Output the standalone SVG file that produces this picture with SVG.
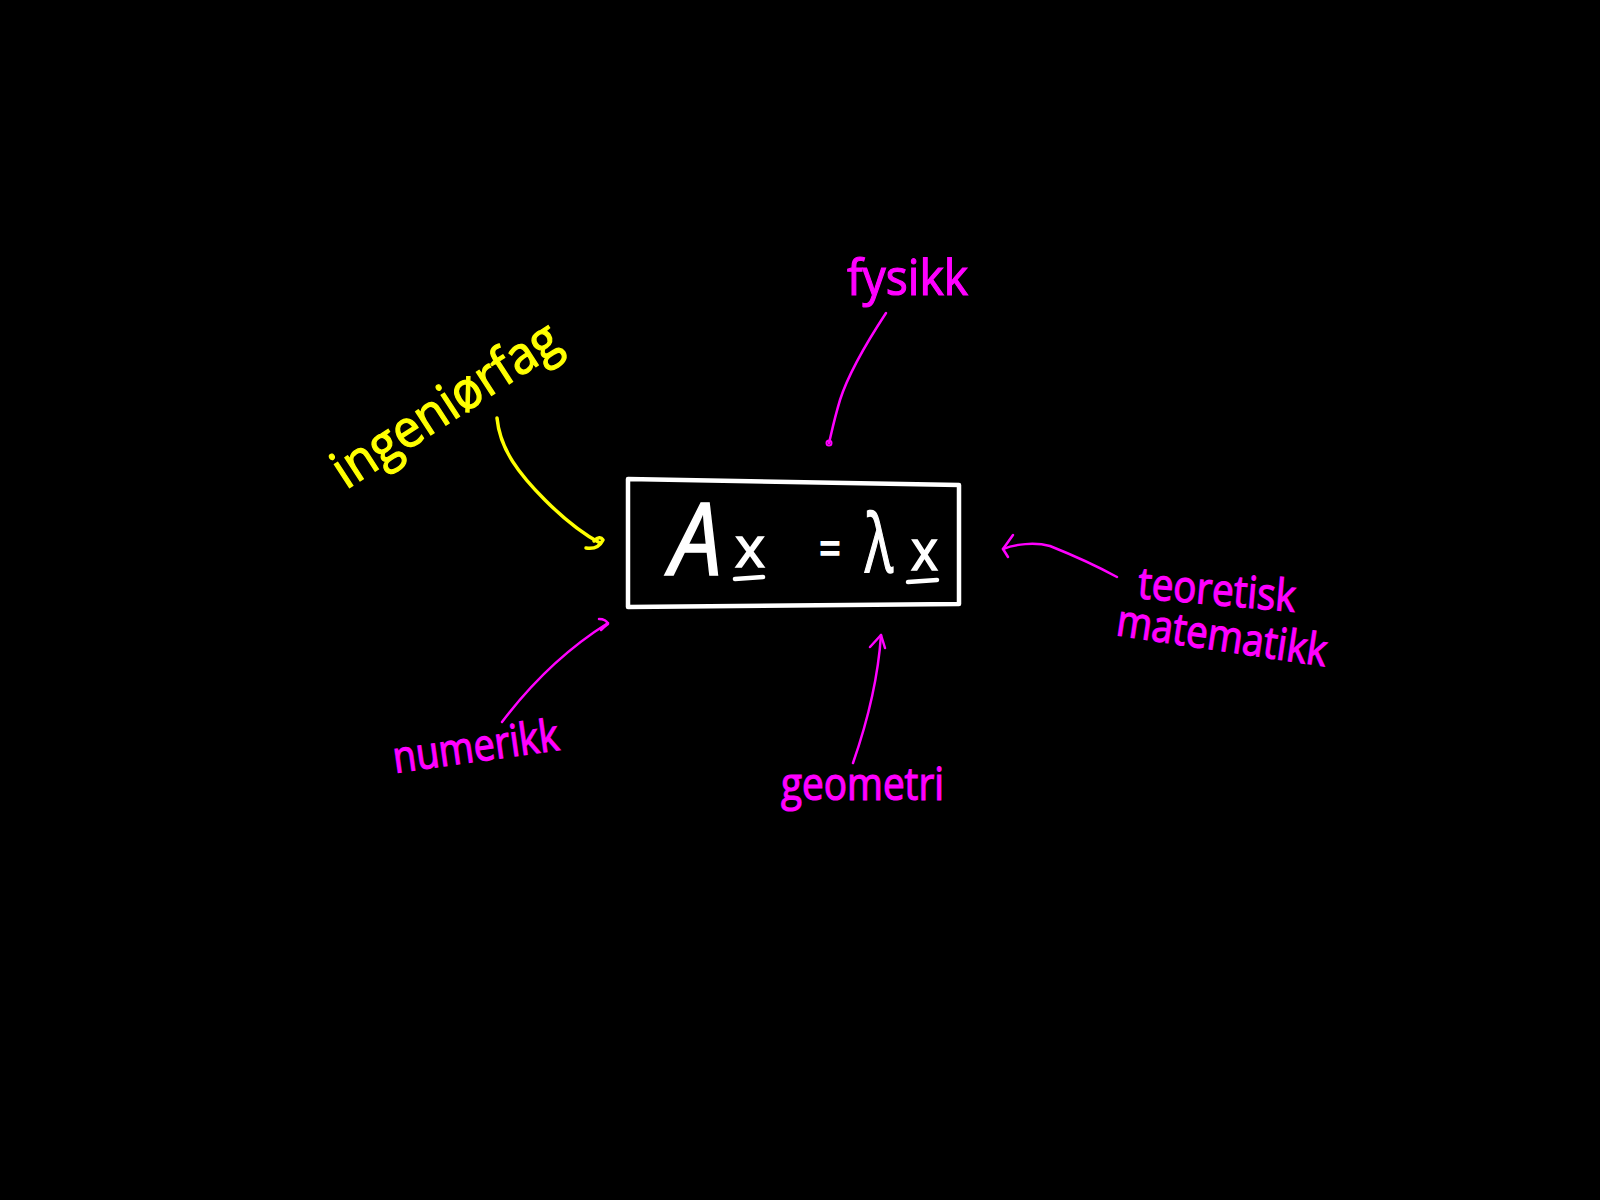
<svg xmlns="http://www.w3.org/2000/svg" width="1600" height="1200" viewBox="0 0 1600 1200">
<style>
.hand{font-family:"Open Sans","DejaVu Sans",sans-serif;}
.mag{fill:#ff00ff;stroke:#ff00ff;stroke-width:1.2;}
.yel{fill:#ffff00;stroke:#ffff00;stroke-width:1.2;}
.wht{fill:#ffffff;stroke:#ffffff;stroke-width:1.5;}
.conn{fill:none;stroke-linecap:round;stroke-linejoin:round;}
.cm{stroke:#ff00ff;stroke-width:2.5;}
.cy{stroke:#ffff00;stroke-width:3.5;}
</style>
<rect x="0" y="0" width="1600" height="1200" fill="#000000"/>
<g id="eigen-box">
<path d="M628,479 L959,485 L959,604 L628,607 Z" fill="none" stroke="#ffffff" stroke-width="4.5" stroke-linejoin="round"/>
<text class="hand wht" x="670" y="575" font-size="100" font-style="italic" textLength="52" lengthAdjust="spacingAndGlyphs">A</text>
<text class="hand wht" x="735" y="567" font-size="56" textLength="30" lengthAdjust="spacingAndGlyphs">x</text>
<path d="M735,579 L763,577" stroke="#ffffff" stroke-width="4.5" stroke-linecap="round"/>
<text class="hand wht" x="819" y="566" font-size="50" textLength="22" lengthAdjust="spacingAndGlyphs" stroke-width="2.5">=</text>
<text class="hand wht" x="865" y="572" font-size="80" textLength="28" lengthAdjust="spacingAndGlyphs">λ</text>
<text class="hand wht" x="911" y="570" font-size="56" textLength="27" lengthAdjust="spacingAndGlyphs">x</text>
<path d="M908,582 L937,580" stroke="#ffffff" stroke-width="4.5" stroke-linecap="round"/>
</g>
<g id="ingeniorfag">
<text class="hand yel" x="346" y="490" font-size="52" textLength="260" lengthAdjust="spacingAndGlyphs" transform="rotate(-33 346 490)">ingeniørfag</text>
</g>
<g id="fysikk">
<text class="hand mag" x="847" y="295" font-size="50" textLength="121" lengthAdjust="spacingAndGlyphs">fysikk</text>
</g>
<g id="teoretisk-matematikk">
<text class="hand mag" x="1137" y="598" font-size="44" textLength="158" lengthAdjust="spacingAndGlyphs" transform="rotate(5 1137 598)">teoretisk</text>
<text class="hand mag" x="1115" y="635" font-size="44" textLength="212" lengthAdjust="spacingAndGlyphs" transform="rotate(8.5 1115 635)">matematikk</text>
</g>
<g id="numerikk">
<text class="hand mag" x="395" y="773" font-size="44" textLength="167" lengthAdjust="spacingAndGlyphs" transform="rotate(-8 395 773)">numerikk</text>
</g>
<g id="geometri">
<text class="hand mag" x="781" y="800" font-size="46" textLength="163" lengthAdjust="spacingAndGlyphs">geometri</text>
</g>
<g id="connectors">
<path class="conn cy" d="M497,418 C500,450 520,475 545,500 C565,520 585,535 600,543"/>
<path class="conn cy" d="M586,548 Q598,550 603,540 Q600,535 594,541" stroke-width="4"/>
<path class="conn cm" d="M886,313 C865,345 848,375 840,400 C834,420 831,435 829,443"/>
<circle cx="829" cy="443" r="2.5" fill="none" stroke="#ff00ff" stroke-width="2"/>
<path class="conn cm" d="M1117,577 C1095,565 1075,556 1050,546 C1035,542 1015,544 1003,549"/>
<path class="conn cm" d="M1013,535 L1003,549 L1008,557"/>
<path class="conn cm" d="M502,722 C530,685 565,650 608,623"/>
<path class="conn cm" d="M599,619 Q606,619 608,624 Q604,627 601,630"/>
<path class="conn cm" d="M853,763 C868,720 878,680 881,635"/>
<path class="conn cm" d="M870,647 L881,635 L885,648"/>
</g>
</svg>
